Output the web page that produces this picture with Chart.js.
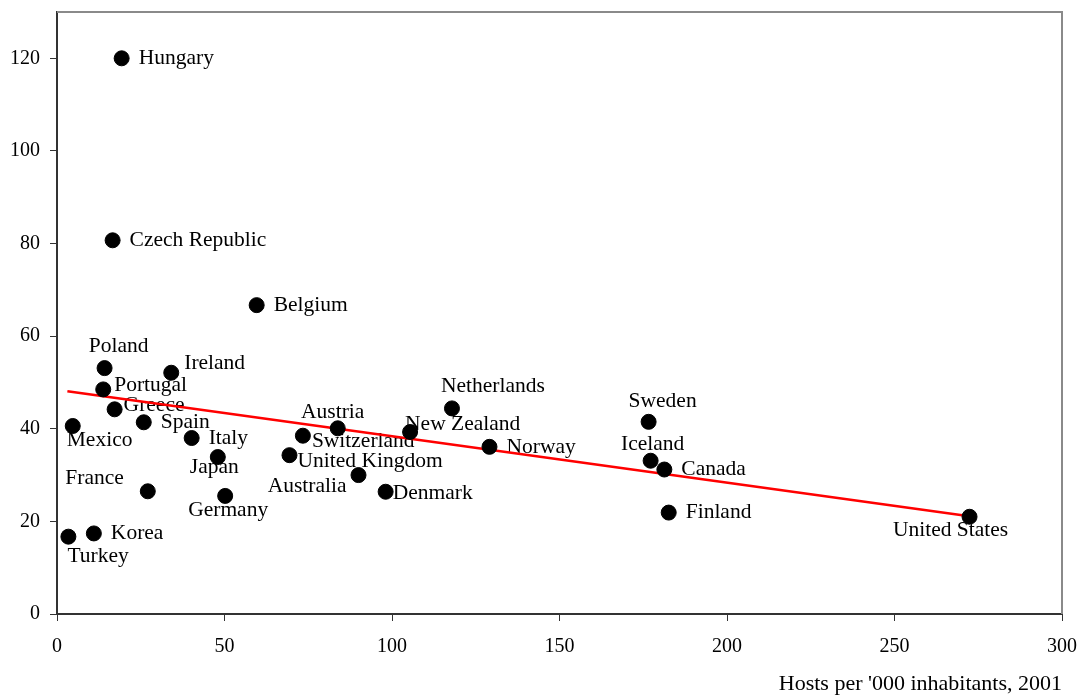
<!DOCTYPE html>
<html>
<head>
<meta charset="utf-8">
<script src="https://cdn.jsdelivr.net/npm/chart.js@4"></script>
<style>
  html, body { margin: 0; padding: 0; background: #fff; }
  #wrap { width: 1080px; height: 697px; position: relative; }
</style>
</head>
<body>
<div id="wrap"><canvas id="scatter-chart"></canvas></div>
<script>
const countries = [
  'Hungary', 'Czech Republic', 'Belgium', 'Poland', 'Ireland', 'Portugal', 'Greece',
  'Mexico', 'Spain', 'Italy', 'Japan', 'France', 'Germany', 'Turkey', 'Korea',
  'United Kingdom', 'Switzerland', 'Austria', 'Australia', 'Denmark', 'New Zealand',
  'Netherlands', 'Norway', 'Sweden', 'Iceland', 'Canada', 'Finland', 'United States'
];
const hostsPer1000 = [
  19.3, 16.6, 59.6, 14.2, 34.1, 13.8, 17.2,
  4.7, 25.9, 40.2, 48.0, 27.1, 50.2, 3.4, 11.0,
  69.4, 73.4, 83.8, 90.0, 98.1, 105.4,
  117.9, 129.1, 176.6, 177.2, 181.3, 182.6, 272.4
];
const yValues = [
  120.0, 80.7, 66.7, 53.1, 52.1, 48.5, 44.2,
  40.6, 41.4, 38.0, 33.9, 26.5, 25.5, 16.7, 17.4,
  34.3, 38.5, 40.1, 30.0, 26.4, 39.3,
  44.4, 36.1, 41.5, 33.1, 31.2, 21.9, 21.0
];
const trendX = [3.1, 272.4];
const trendY = [48.1, 21.1];

const xTicks = [0, 50, 100, 150, 200, 250, 300];
const yTicks = [0, 20, 40, 60, 80, 100, 120];
const xTitle = "Hosts per '000 inhabitants, 2001";

// label placement: [dx, dy, align] relative to the dot centre
const labelPlacement = {
  'Hungary': [17, 0, 'left'],
  'Czech Republic': [17, 0, 'left'],
  'Belgium': [17, 0, 'left'],
  'Poland': [14, -22, 'center'],
  'Ireland': [13, -9, 'left'],
  'Portugal': [11, -4, 'left'],
  'Greece': [9, -4, 'left'],
  'Mexico': [-6, 14, 'left'],
  'Spain': [17, 0, 'left'],
  'Italy': [17, 0, 'left'],
  'Japan': [-28, 10, 'left'],
  'France': [-24, -13, 'right'],
  'Germany': [3, 14, 'center'],
  'Turkey': [-1, 20, 'left'],
  'Korea': [17, 0, 'left'],
  'United Kingdom': [8, 6, 'left'],
  'Switzerland': [9, 6, 'left'],
  'Austria': [-5, -16, 'center'],
  'Australia': [-12, 11, 'right'],
  'Denmark': [7, 2, 'left'],
  'New Zealand': [-5, -8, 'left'],
  'Netherlands': [41, -22, 'center'],
  'Norway': [17, 1, 'left'],
  'Sweden': [14, -20, 'center'],
  'Iceland': [2, -16, 'center'],
  'Canada': [17, 0, 'left'],
  'Finland': [17, 0, 'left'],
  'United States': [-19, 14, 'center']
};

const FONT = "'Liberation Serif', 'Times New Roman', serif";

const pointLabels = {
  id: 'pointLabels',
  beforeDatasetsDraw(chart) {
    const meta = chart.getDatasetMeta(0);
    const ctx = chart.ctx;
    ctx.save();
    ctx.fillStyle = '#000';
    ctx.font = '21.5px ' + FONT;
    ctx.textBaseline = 'middle';
    meta.data.forEach((pt, i) => {
      const p = labelPlacement[countries[i]] || [17, 0, 'left'];
      ctx.textAlign = p[2];
      ctx.fillText(countries[i], pt.x + p[0], pt.y + p[1]);
    });
    ctx.restore();
  }
};

const frame = {
  id: 'frame',
  afterDraw(chart) {
    const a = chart.chartArea;
    const ctx = chart.ctx;
    ctx.save();
    ctx.strokeStyle = '#8a8a8a';
    ctx.lineWidth = 2;
    ctx.beginPath();
    ctx.moveTo(a.left, a.top);
    ctx.lineTo(a.right, a.top);
    ctx.lineTo(a.right, a.bottom);
    ctx.stroke();
    ctx.restore();
  }
};

const initializeChart = () => {
  const ctx = document.getElementById('scatter-chart');

  new Chart(ctx, {
    type: 'scatter',
    data: {
      datasets: [
        {
          label: 'Countries',
          data: hostsPer1000.map((x, i) => ({ x: x, y: yValues[i] })),
          backgroundColor: '#000',
          borderColor: '#000',
          pointRadius: 7.5,
          pointHoverRadius: 7.5
        },
        {
          label: 'Trend',
          type: 'line',
          data: trendX.map((x, i) => ({ x: x, y: trendY[i] })),
          borderColor: '#ff0000',
          borderWidth: 2.5,
          pointRadius: 0,
          fill: false
        }
      ]
    },
    options: {
      responsive: true,
      maintainAspectRatio: false,
      animation: false,
      layout: {
        padding: { left: 0, right: 18, top: 12, bottom: 0 }
      },
      scales: {
        x: {
          type: 'linear',
          min: 0,
          max: 300,
          afterBuildTicks: s => { s.ticks = xTicks.map(v => ({ value: v })); },
          afterFit: s => {
            s.height = 83;
            s.paddingLeft = 0;
            s.paddingRight = 0;
          },
          ticks: {
            color: '#000',
            font: { family: FONT, size: 20 },
            padding: 14
          },
          grid: {
            display: true,
            drawOnChartArea: false,
            drawTicks: true,
            tickLength: 7,
            color: '#333'
          },
          border: { color: '#333', width: 2 },
          title: {
            display: true,
            text: xTitle,
            align: 'end',
            color: '#000',
            font: { family: FONT, size: 22 },
            padding: { top: 10, bottom: 0 }
          }
        },
        y: {
          min: 0,
          max: 130,
          afterBuildTicks: s => { s.ticks = yTicks.map(v => ({ value: v })); },
          afterFit: s => {
            s.width = 57;
            s.paddingTop = 0;
            s.paddingBottom = 0;
          },
          ticks: {
            color: '#000',
            font: { family: FONT, size: 20 },
            padding: 10
          },
          grid: {
            display: true,
            drawOnChartArea: false,
            drawTicks: true,
            tickLength: 7,
            color: '#333'
          },
          border: { color: '#333', width: 2 }
        }
      },
      plugins: {
        legend: { display: false },
        tooltip: { enabled: false }
      }
    },
    plugins: [pointLabels, frame]
  });
};

document.addEventListener('DOMContentLoaded', () => {
  initializeChart();
});
</script>
</body>
</html>
